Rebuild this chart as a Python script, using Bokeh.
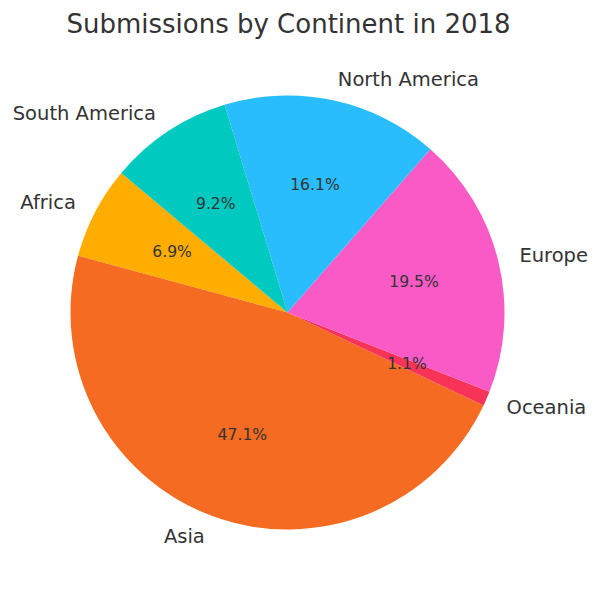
import math
from bokeh.plotting import figure
from bokeh.models import Range1d, ColumnDataSource
from bokeh.core.properties import value
from bokeh.embed import file_html
from bokeh.resources import INLINE

continents = ["Africa", "Asia", "Oceania", "Europe", "North America", "South America"]
shares = [6.9, 47.1, 1.1, 19.5, 16.1, 9.2]
colors = ["#FFAE00", "#F46B21", "#F83358", "#F95AC6", "#29BDFD", "#00C9C0"]
title_text = "Submissions by Continent in 2018"

W, H = 600, 596
p = figure(width=W, height=H, output_backend="svg", toolbar_location=None,
           x_range=Range1d(0, W), y_range=Range1d(596 - H, 596),
           min_border=0, outline_line_color=None, background_fill_color="white")
p.axis.visible = False
p.grid.visible = False

cx, cy, r = 287, 596 - 312, 217
start_deg = 140.0
total = sum(shares)
starts, ends, mids = [], [], []
a = math.radians(start_deg)
for s in shares:
    span = 2 * math.pi * s / total
    starts.append(a)
    ends.append(a + span)
    mids.append(a + span / 2)
    a += span

src = ColumnDataSource(dict(start=starts, end=ends, color=colors))
p.wedge(x=cx, y=cy, radius=r, start_angle="start", end_angle="end",
        fill_color="color", line_color=None, direction="anticlock", source=src)

lx = [cx + 1.1 * r * math.cos(m) for m in mids]
ly = [cy + 1.1 * r * math.sin(m) for m in mids]
align = ["left" if math.cos(m) > 0 else "right" for m in mids]
lsrc = ColumnDataSource(dict(x=lx, y=ly, t=continents, align=align))
p.text(x="x", y="y", text="t", text_align="align", text_baseline="middle",
       text_font=value("DejaVu Sans"), text_font_size="19.5px",
       text_color="#333333", source=lsrc)

px = [cx + 0.6 * r * math.cos(m) for m in mids]
py = [cy + 0.6 * r * math.sin(m) for m in mids]
pct = ["%.1f%%" % (100 * s / total) for s in shares]
psrc = ColumnDataSource(dict(x=px, y=py, t=pct))
p.text(x="x", y="y", text="t", text_align="center", text_baseline="middle",
       text_font=value("DejaVu Sans"), text_font_size="15.6px",
       text_color="#333333", source=psrc)

p.text(x=[288], y=[596 - 23], text=[title_text], text_align="center",
       text_baseline="middle", text_font=value("DejaVu Sans"),
       text_font_size="26px", text_color="#333333")

open("out.html", "w").write(file_html(p, INLINE))
